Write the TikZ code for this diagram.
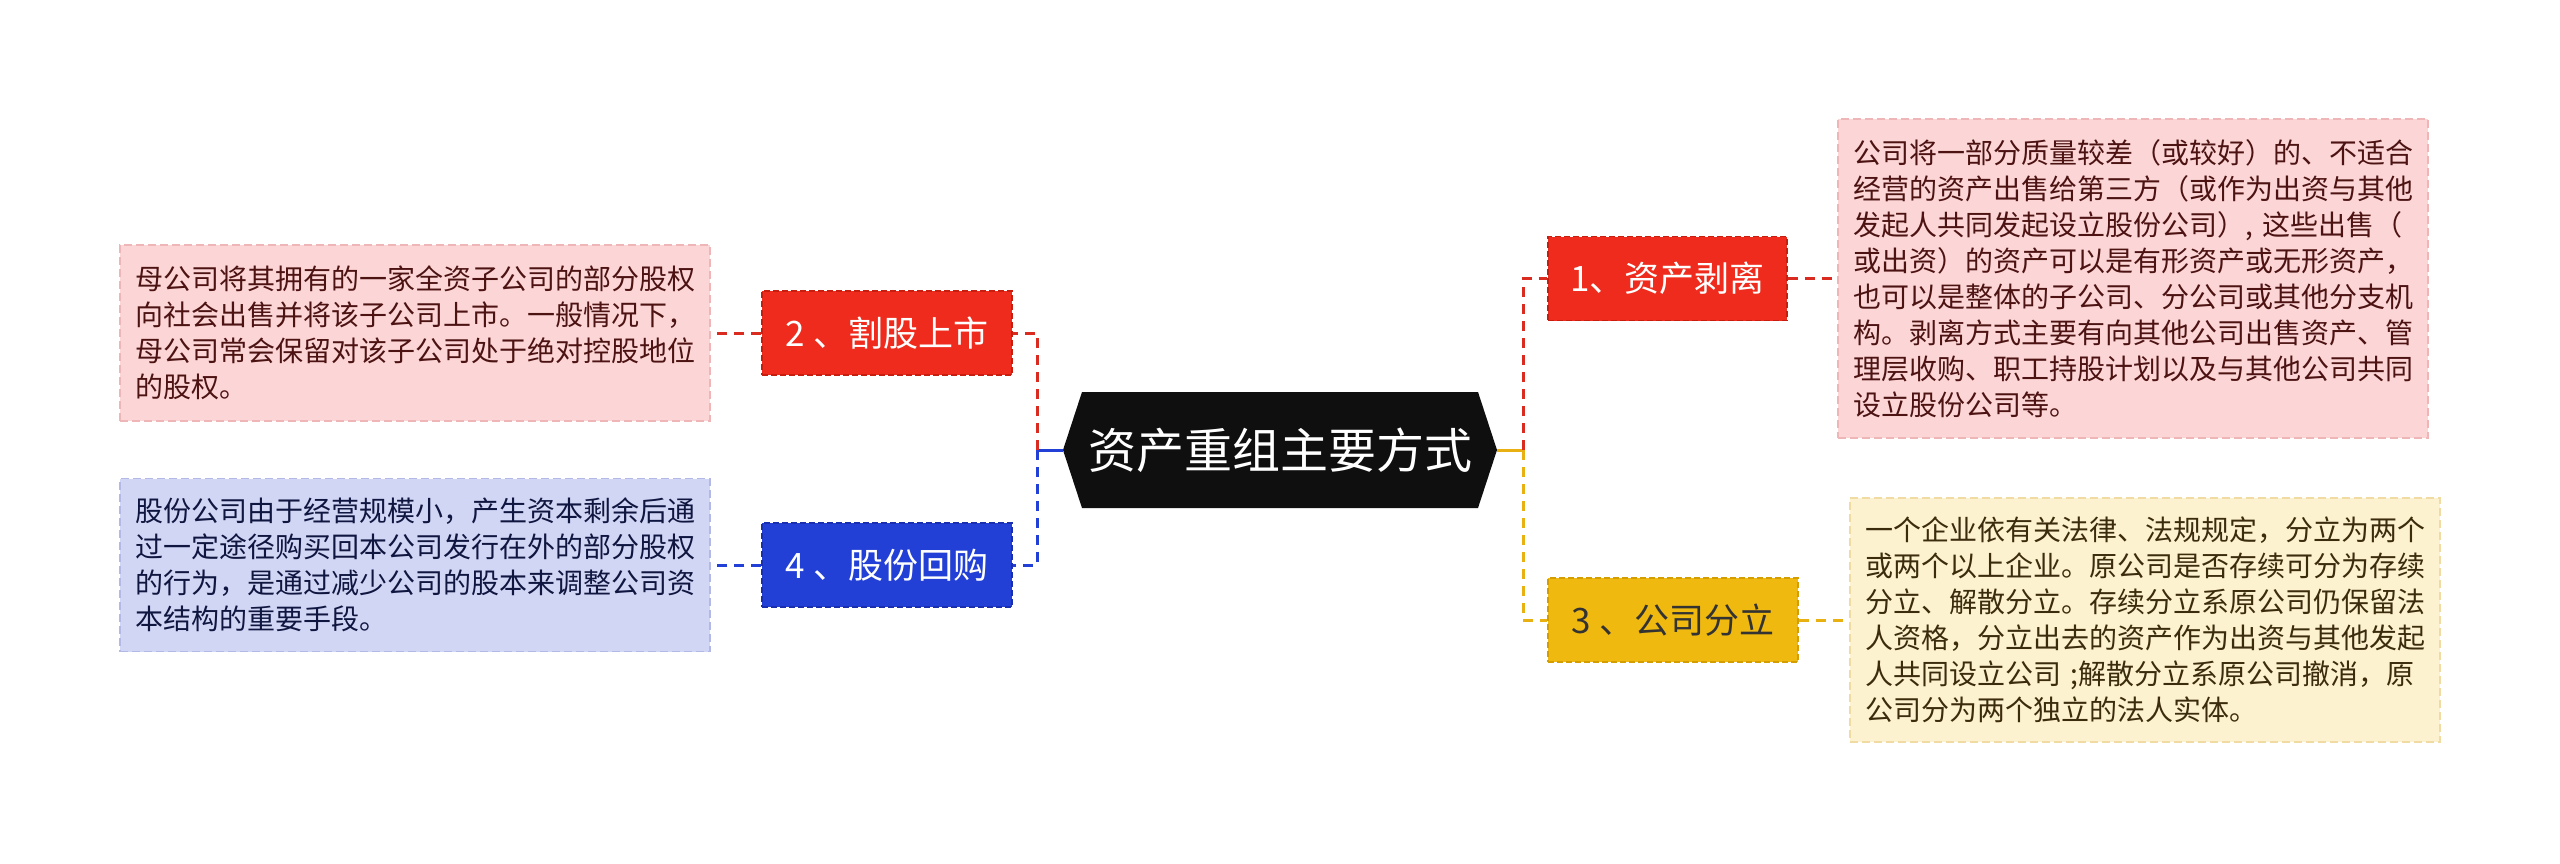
\documentclass[tikz,border=0pt]{standalone}
\usepackage{fontspec}
\newfontfamily\cjk{Noto Sans CJK SC}
\definecolor{rootfill}{HTML}{0F0F0F}
\definecolor{redN}{HTML}{EE2B1C}
\definecolor{redNb}{HTML}{C81E10}
\definecolor{blueN}{HTML}{2340D6}
\definecolor{blueNb}{HTML}{1A2FB0}
\definecolor{yelN}{HTML}{F0B90F}
\definecolor{yelNb}{HTML}{D49E00}
\definecolor{pinkF}{HTML}{FCD6D6}
\definecolor{pinkB}{HTML}{EEB6B6}
\definecolor{creamF}{HTML}{FDF2D0}
\definecolor{creamB}{HTML}{F0DBA2}
\definecolor{lavF}{HTML}{D2D6F5}
\definecolor{lavB}{HTML}{B2B9E6}
\definecolor{pinkT}{HTML}{4D1313}
\definecolor{creamT}{HTML}{3B2C0E}
\definecolor{lavT}{HTML}{0F1640}
\definecolor{cred}{HTML}{D92B1F}
\definecolor{cyel}{HTML}{E8B010}
\definecolor{cblue}{HTML}{2340D6}
\begin{document}
\begin{tikzpicture}[x=1pt,y=-1pt,
  topic/.style={rectangle, minimum width=250pt, minimum height=84pt, inner sep=0pt,
    font=\cjk\fontsize{35}{42}\selectfont, line width=1.5pt, dash pattern=on 6pt off 3pt},
  detail/.style={rectangle, text width=560pt, inner xsep=15pt, inner ysep=0pt, align=left,
    font=\cjk\fontsize{28}{36}\selectfont, line width=1.5pt, dash pattern=on 8pt off 4pt},
  link/.style={line width=3pt, dash pattern=on 10pt off 7pt},
  trunk/.style={line width=3pt}
]
\useasboundingbox (0,0) rectangle (2560,863);
\fill[white] (0,0) rectangle (2560,863);

% root hexagon
\coordinate (rootW) at (1063,450);
\coordinate (rootE) at (1497,450);
\fill[rootfill] (rootW) -- (1082,392) -- (1478,392) -- (rootE) -- (1478,508) -- (1082,508) -- cycle;
\node[font=\cjk\fontsize{48}{56}\selectfont, text=white, inner sep=0pt] (root) at (1280,450) {资产重组主要方式};

% topic nodes
\node[topic, minimum width=239pt, fill=redN, draw=redNb, text=white] (n1) at (1667.5,278.5) {1、资产剥离};
\node[topic, fill=yelN, draw=yelNb, text=black!80] (n3) at (1673,620) {3 、公司分立};
\node[topic, fill=redN, draw=redNb, text=white] (n2) at (887,333) {2 、割股上市};
\node[topic, fill=blueN, draw=blueNb, text=white] (n4) at (887,565) {4 、股份回购};

% detail boxes
\node[detail, fill=pinkF, draw=pinkB, text=pinkT, minimum height=319pt] (b1) at (2133,278.5) {公司将一部分质量较差（或较好）的、不适合\\经营的资产出售给第三方（或作为出资与其他\\发起人共同发起设立股份公司）, 这些出售（\\或出资）的资产可以是有形资产或无形资产，\\也可以是整体的子公司、分公司或其他分支机\\构。剥离方式主要有向其他公司出售资产、管\\理层收购、职工持股计划以及与其他公司共同\\设立股份公司等。};
\node[detail, fill=creamF, draw=creamB, text=creamT, minimum height=244pt] (b3) at (2145,620) {一个企业依有关法律、法规规定，分立为两个\\或两个以上企业。原公司是否存续可分为存续\\分立、解散分立。存续分立系原公司仍保留法\\人资格，分立出去的资产作为出资与其他发起\\人共同设立公司 ;解散分立系原公司撤消，原\\公司分为两个独立的法人实体。};
\node[detail, fill=pinkF, draw=pinkB, text=pinkT, minimum height=176pt] (b2) at (415,333) {母公司将其拥有的一家全资子公司的部分股权\\向社会出售并将该子公司上市。一般情况下，\\母公司常会保留对该子公司处于绝对控股地位\\的股权。};
\node[detail, fill=lavF, draw=lavB, text=lavT, minimum height=173pt] (b4) at (415,565) {股份公司由于经营规模小，产生资本剩余后通\\过一定途径购买回本公司发行在外的部分股权\\的行为，是通过减少公司的股本来调整公司资\\本结构的重要手段。};

% connectors
\coordinate (rj) at (1523,450);
\coordinate (lj) at (1037,450);
\draw[trunk, cyel] (rootE) -- (rj);
\draw[trunk, cblue] (rootW) -- (lj);
\draw[link, cred] (rj) |- (n1.west);
\draw[link, cyel] (rj) |- (n3.west);
\draw[link, cred] (lj) |- (n2.east);
\draw[link, cblue] (lj) |- (n4.east);
\draw[link, cred] (n1.east) -- (b1.west);
\draw[link, cyel] (n3.east) -- (b3.west);
\draw[link, cred] (n2.west) -- (b2.east);
\draw[link, cblue] (n4.west) -- (b4.east);
\end{tikzpicture}
\end{document}
